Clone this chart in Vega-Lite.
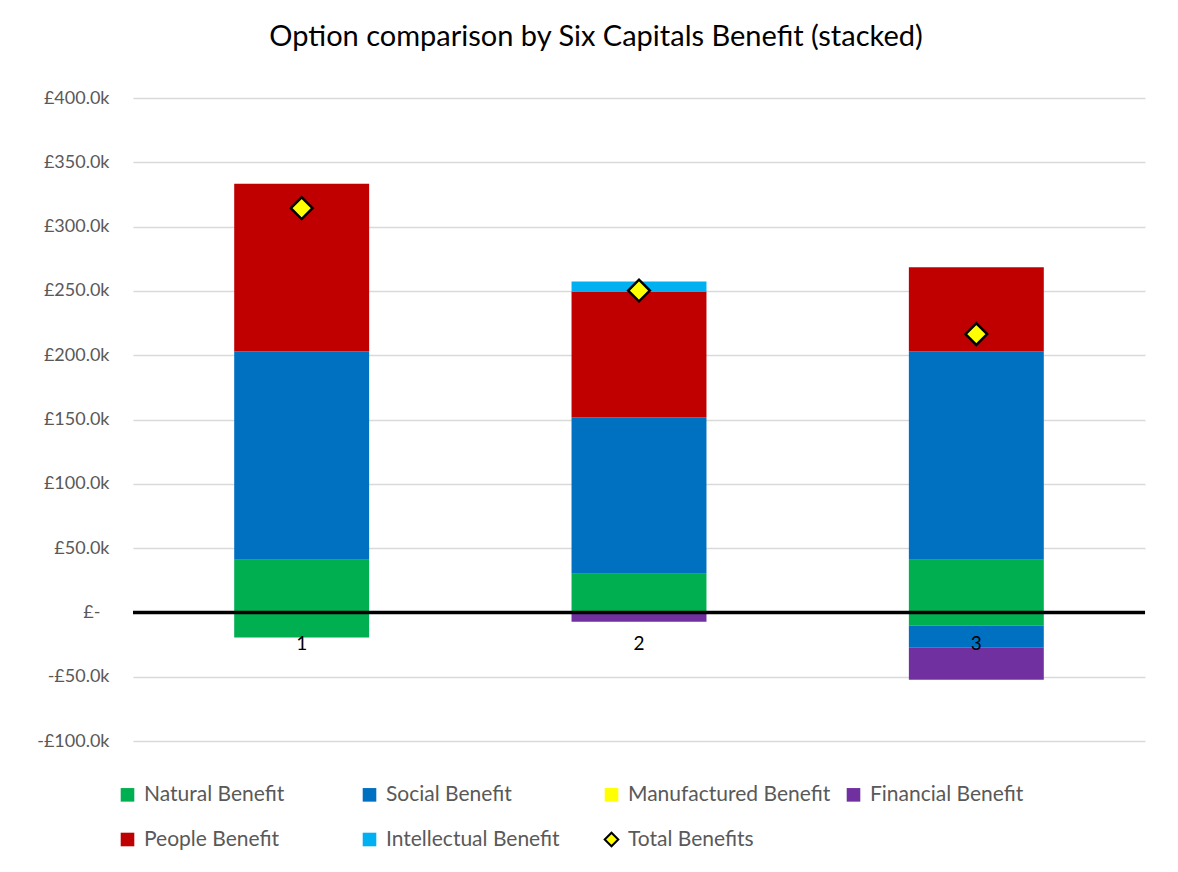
{
  "$schema": "https://vega.github.io/schema/vega-lite/v6.json",
  "width": 1012,
  "height": 643,
  "autosize": {"type": "none"},
  "padding": {"left": 133, "top": 98, "right": 33, "bottom": 131},
  "background": "white",
  "title": {
    "text": "Option comparison by Six Capitals Benefit (stacked)",
    "font": "Lato",
    "fontSize": 29,
    "fontWeight": "normal",
    "color": "#000000",
    "anchor": "middle",
    "dx": -43,
    "baseline": "alphabetic",
    "offset": 14
  },
  "datasets": {
    "bars": [
      {"option": "1", "series": "Natural Benefit", "value": 41000, "order": 1},
      {"option": "1", "series": "Natural Benefit", "value": -19500, "order": 1},
      {"option": "1", "series": "Social Benefit", "value": 161800, "order": 2},
      {"option": "1", "series": "People Benefit", "value": 130500, "order": 5},
      {"option": "2", "series": "Natural Benefit", "value": 30000, "order": 1},
      {"option": "2", "series": "Social Benefit", "value": 121500, "order": 2},
      {"option": "2", "series": "Financial Benefit", "value": -7200, "order": 4},
      {"option": "2", "series": "People Benefit", "value": 98000, "order": 5},
      {"option": "2", "series": "Intellectual Benefit", "value": 7800, "order": 6},
      {"option": "3", "series": "Natural Benefit", "value": 40900, "order": 1},
      {"option": "3", "series": "Natural Benefit", "value": -10300, "order": 1},
      {"option": "3", "series": "Social Benefit", "value": 162100, "order": 2},
      {"option": "3", "series": "Social Benefit", "value": -17100, "order": 2},
      {"option": "3", "series": "Financial Benefit", "value": -24900, "order": 4},
      {"option": "3", "series": "People Benefit", "value": 65400, "order": 5}
    ],
    "totals": [
      {"option": "1", "series": "Total Benefits", "value": 314300},
      {"option": "2", "series": "Total Benefits", "value": 250300},
      {"option": "3", "series": "Total Benefits", "value": 216400}
    ]
  },
  "layer": [
    {
      "data": {"name": "bars"},
      "mark": {"type": "bar"},
      "encoding": {
        "x": {"field": "option", "type": "nominal", "axis": null, "scale": {"paddingInner": 0.6, "paddingOuter": 0.3}},
        "y": {
          "field": "value",
          "type": "quantitative",
          "stack": "zero",
          "scale": {"domain": [-100000, 400000], "nice": false, "zero": false},
          "axis": {
            "title": null,
            "values": [-100000, -50000, 0, 50000, 100000, 150000, 200000, 250000, 300000, 350000, 400000],
            "grid": true,
            "gridColor": "#d9d9d9",
            "gridWidth": 1.5,
            "domain": false,
            "ticks": false,
            "labelFont": "Lato",
            "labelFontSize": 18,
            "labelColor": "#595959",
            "labelPadding": {"condition": {"test": "datum.value == 0", "value": 33}, "value": 24},
            "labelExpr": "datum.value == 0 ? '£-' : (datum.value < 0 ? '-£' : '£') + format(abs(datum.value)/1000, '.1f') + 'k'"
          }
        },
        "color": {
          "field": "series",
          "type": "nominal",
          "scale": {
            "domain": ["Natural Benefit", "Social Benefit", "Manufactured Benefit", "Financial Benefit", "People Benefit", "Intellectual Benefit", "Total Benefits"],
            "range": ["#00B050", "#0070C0", "#FFFF00", "#7030A0", "#C00000", "#00B0F0", "#FFFF00"]
          },
          "legend": {
            "title": null,
            "orient": "none",
            "legendX": -16,
            "legendY": 686,
            "direction": "horizontal",
            "columns": 4,
            "gridAlign": "all",
            "columnPadding": 11,
            "rowPadding": 22,
            "padding": 0,
            "labelFont": "Lato",
            "labelFontSize": 21,
            "labelColor": "#595959",
            "labelOffset": 6,
            "symbolSize": 185,
            "symbolStrokeWidth": 2,
            "labelLimit": 400
          }
        },
        "order": {"field": "order", "type": "quantitative"}
      }
    },
    {
      "data": {"values": [{}]},
      "mark": {"type": "rule", "color": "#000000", "strokeWidth": 3.5},
      "encoding": {"y": {"datum": 0}}
    },
    {
      "data": {"name": "totals"},
      "mark": {"type": "point", "filled": true, "size": 470, "strokeWidth": 2.5, "opacity": 1},
      "encoding": {
        "x": {"field": "option", "type": "nominal"},
        "y": {"field": "value", "type": "quantitative"},
        "color": {"field": "series", "type": "nominal"},
        "shape": {
          "field": "series",
          "type": "nominal",
          "scale": {
            "domain": ["Natural Benefit", "Social Benefit", "Manufactured Benefit", "Financial Benefit", "People Benefit", "Intellectual Benefit", "Total Benefits"],
            "range": ["square", "square", "square", "square", "square", "square", "diamond"]
          }
        },
        "stroke": {
          "field": "series",
          "type": "nominal",
          "scale": {
            "domain": ["Natural Benefit", "Social Benefit", "Manufactured Benefit", "Financial Benefit", "People Benefit", "Intellectual Benefit", "Total Benefits"],
            "range": ["transparent", "transparent", "transparent", "transparent", "transparent", "transparent", "#000000"]
          }
        }
      }
    },
    {
      "data": {"name": "totals"},
      "mark": {"type": "text", "font": "Lato", "fontSize": 19, "color": "#000000", "baseline": "middle", "dy": 32},
      "encoding": {
        "x": {"field": "option", "type": "nominal"},
        "y": {"datum": 0},
        "text": {"field": "option"}
      }
    }
  ],
  "config": {"view": {"stroke": null}}
}
